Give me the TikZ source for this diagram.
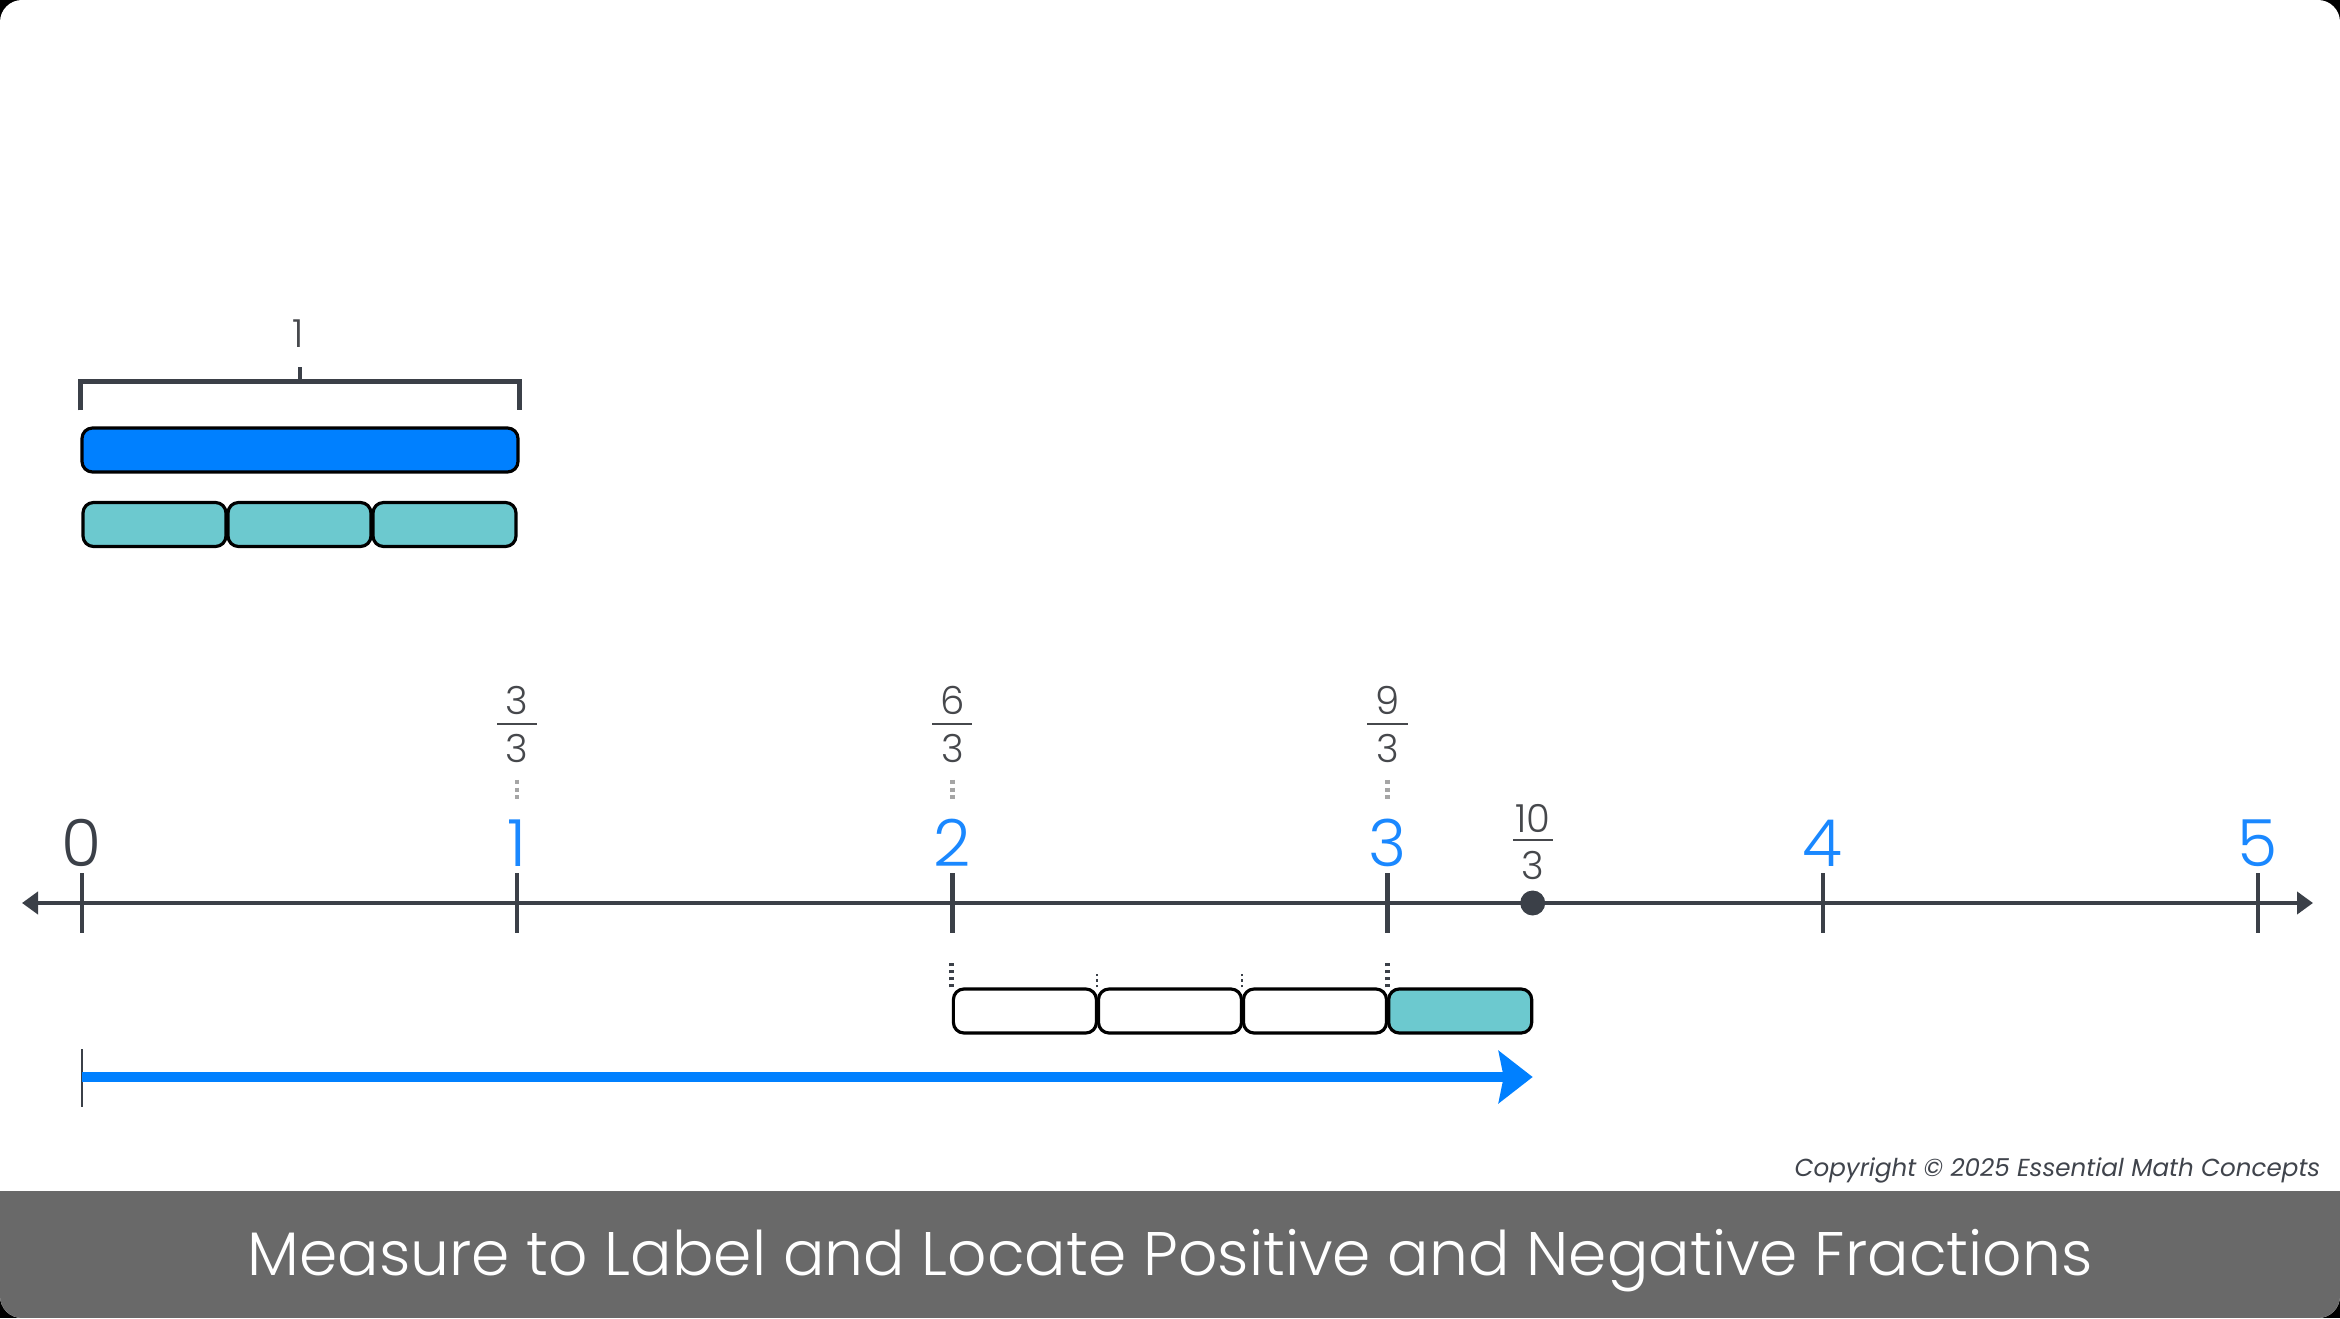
\documentclass[tikz,border=0pt]{standalone}
\usepackage{fontspec}
\setmainfont{Poppins}[UprightFont={* Light},ItalicFont={* Italic}]
\usetikzlibrary{arrows.meta,positioning,calc}
\definecolor{nlgray}{RGB}{59,64,72}
\definecolor{fracgray}{RGB}{70,72,76}
\definecolor{nlblue}{RGB}{0,128,255}
\definecolor{labblue}{RGB}{26,136,255}
\definecolor{nlteal}{RGB}{108,201,207}
\definecolor{bargray}{RGB}{105,105,105}
\definecolor{dotgray}{RGB}{165,165,165}
\definecolor{copygray}{RGB}{64,68,76}

\begin{document}
\begin{tikzpicture}[
  every node/.style={font=\fontsize{11}{13}\selectfont,text=fracgray,inner sep=0pt},
  intlab/.style={font=\fontsize{18.5}{20}\selectfont,text=labblue,anchor=base},
  piece/.style={draw=black,line width=0.9pt,rounded corners=3pt,
                minimum width=1.43cm,minimum height=0.44cm},
  tick/.style={line width=1.3pt,nlgray},
  guide/.style={dotgray,line width=1.3pt,dash pattern=on 1.1pt off 1.1pt},
  fracbar/.style={line width=0.7pt,fracgray},
]
  \useasboundingbox (0,0) rectangle (23.40,13.18);
  % Frame and title bar
  \fill[black] (0,0) rectangle (23.40,13.18);
  \fill[white,rounded corners=0.22cm] (0,0) rectangle (23.40,13.18);
  \begin{scope}
    \clip[rounded corners=0.22cm] (0,0) rectangle (23.40,13.18);
    \fill[bargray] (0,0) rectangle (23.40,1.27);
  \end{scope}

  % One whole and its thirds
  \node[piece,fill=nlblue,minimum width=4.36cm] (unit) at (3.00, 8.68) {};
  \node[piece,fill=nlteal] (ta) at (1.545, 7.935) {};
  \node[piece,fill=nlteal] (tb) at (2.995, 7.935) {};
  \node[piece,fill=nlteal] (tc) at (4.445, 7.935) {};

  % Bracket over the whole
  \draw[nlgray,line width=1.3pt]
    ([yshift=0.16cm]unit.north west) -- ++(0,0.29) -| ([yshift=0.16cm]unit.north east);
  \draw[nlgray,line width=1.3pt] (3.00,9.35) -- (3.00,9.51);
  \node (one) at (2.98, 9.84) {1};

  % Number line
  \coordinate (lend) at (0.22, 4.15);
  \coordinate (rend) at (23.13, 4.15);
  \draw[nlgray,line width=1.3pt,
        {Triangle[length=0.16cm,width=0.22cm]}-{Triangle[length=0.16cm,width=0.22cm]}]
    (lend) -- (rend);
  \foreach \i/\x in {0/0.82,1/5.172,2/9.524,3/13.876,4/18.228,5/22.58}
    \draw[tick] (\x,4.45) coordinate (p\i) -- (\x,3.85);

  % Whole number labels
  \node[intlab,text=nlgray] (n0) at (0.82, 4.52) {0};
  \node[intlab] (n1) at (5.172, 4.52) {1};
  \node[intlab] (n2) at (9.524, 4.52) {2};
  \node[intlab] (n3) at (13.876, 4.52) {3};
  \node[intlab] (n4) at (18.228, 4.52) {4};
  \node[intlab] (n5) at (22.58, 4.52) {5};

  % Thirds above the whole numbers
  \node (f1n) at (5.172, 6.18) {3};
  \draw[fracbar] (4.97,5.94) -- (5.37,5.94);
  \node (f1d) at (5.172, 5.70) {3};
  \node (f2n) at (9.524, 6.18) {6};
  \draw[fracbar] (9.32,5.94) -- (9.72,5.94);
  \node (f2d) at (9.524, 5.70) {3};
  \node (f3n) at (13.876, 6.18) {9};
  \draw[fracbar] (13.67,5.94) -- (14.08,5.94);
  \node (f3d) at (13.876, 5.70) {3};
  \draw[guide] ([yshift=-0.17cm]f1d.south) -- ([yshift=0.16cm]n1.north);
  \draw[guide] ([yshift=-0.17cm]f2d.south) -- ([yshift=0.16cm]n2.north);
  \draw[guide] ([yshift=-0.17cm]f3d.south) -- ([yshift=0.16cm]n3.north);

  % Ten thirds
  \node[circle,fill=nlgray,minimum size=0.25cm] (pt) at (15.327, 4.15) {};
  \node (f4n) at (15.327, 5.00) {10};
  \draw[fracbar] (15.13,4.78) -- (15.53,4.78);
  \node (f4d) at (15.327, 4.53) {3};

  % Thirds measured from 2
  \node[piece,fill=white] (b1) at (10.249, 3.07) {};
  \node[piece,fill=white] (b2) at (11.700, 3.07) {};
  \node[piece,fill=white] (b3) at (13.150, 3.07) {};
  \node[piece,fill=nlteal] (b4) at (14.602, 3.07) {};
  \draw[nlgray,line width=1.4pt,dash pattern=on 1pt off 1pt] (b1.north west) -- ++(0,0.27);
  \draw[nlgray,line width=1.4pt,dash pattern=on 1pt off 1pt] (b4.north west) -- ++(0,0.27);
  \draw[nlgray,line width=0.4pt,dash pattern=on 0.8pt off 0.8pt] (b2.north west) -- ++(0,0.13);
  \draw[nlgray,line width=0.4pt,dash pattern=on 0.8pt off 0.8pt] (b3.north west) -- ++(0,0.13);

  % Measuring arrow
  \coordinate (mstart) at (0.82, 2.41);
  \coordinate (mend) at (pt |- mstart);
  \draw[nlgray,line width=0.6pt] ([yshift=0.28cm]mstart) -- ([yshift=-0.30cm]mstart);
  \draw[nlblue,line width=0.1cm,-{Stealth[length=0.34cm,width=0.52cm,inset=0.05cm]}]
    (mstart) -- (mend);

  % Copyright and title
  \node[anchor=east,font=\fontsize{7}{9}\selectfont\itshape,text=copygray]
    (copy) at (23.21, 1.48) {Copyright © 2025 Essential Math Concepts};
  \node[text=white,font=\fontsize{17.5}{20}\selectfont]
    (title) at (11.70, 0.57) {Measure to Label and Locate Positive and Negative Fractions};
\end{tikzpicture}
\end{document}
